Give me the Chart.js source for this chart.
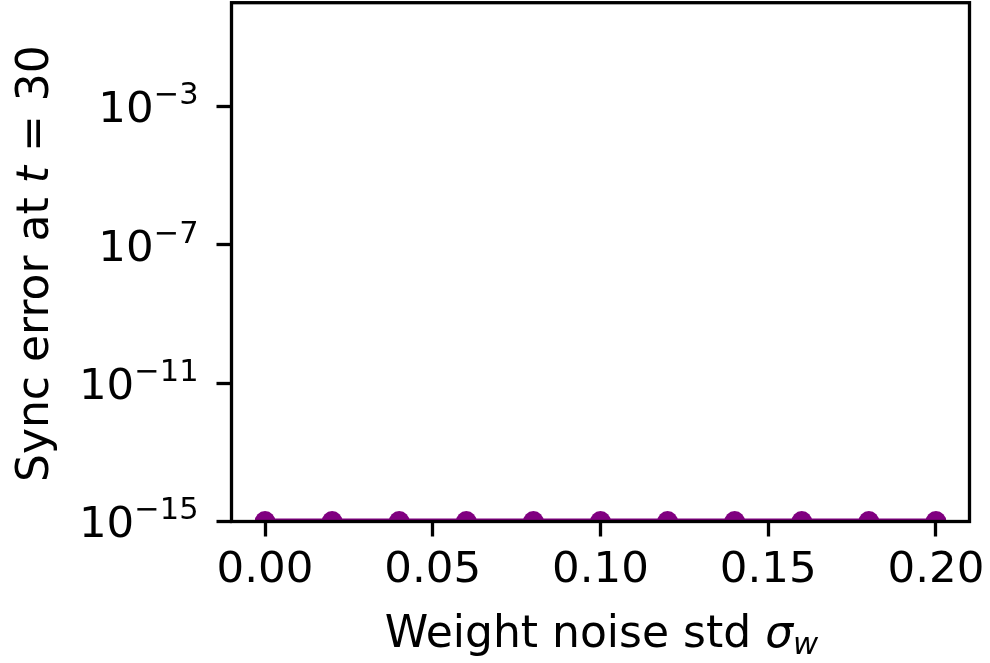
<!DOCTYPE html>
<html><head><meta charset="utf-8">
<style>html,body{margin:0;padding:0;background:#fff;overflow:hidden}#wrap{width:990px;height:663px;position:relative}</style>
<script src="https://cdn.jsdelivr.net/npm/chart.js@4/dist/chart.umd.min.js"></script>
</head><body><div id="wrap"><canvas id="c" width="990" height="663"></canvas></div>
<script>
// Data
const noiseStd = [0.00, 0.02, 0.04, 0.06, 0.08, 0.10, 0.12, 0.14, 0.16, 0.18, 0.20];
const syncError = [1e-15, 1e-15, 1e-15, 1e-15, 1e-15, 1e-15, 1e-15, 1e-15, 1e-15, 1e-15, 1e-15];
const xTickValues = [0.00, 0.05, 0.10, 0.15, 0.20];
const yTickValues = [1e-15, 1e-11, 1e-7, 1e-3];
const yTickBase = '10';
const yTickExponents = ['\u221215', '\u221211', '\u22127', '\u22123'];
const xTitleRuns = [{t: 'Weight noise std ', s: 'n'}, {t: '\u03C3', s: 'i'}, {t: 'w', s: 'sub'}];
const yTitleRuns = [{t: 'Sync error at ', s: 'n'}, {t: 't', s: 'i'}, {t: ' = 30', s: 'n'}];

const FS_TICK = 43.5;
const FS_TITLE = 44;
const FAM = "'DejaVu Sans', sans-serif";

function drawRuns(ctx, runs, cx, cy, fs) {
  const fontFor = r => (r.s === 'i' || r.s === 'sub' ? 'italic ' : '') + (r.s === 'sub' ? fs * 0.7 : fs) + 'px ' + FAM;
  let total = 0;
  const widths = runs.map(r => { ctx.font = fontFor(r); const w = ctx.measureText(r.t).width; total += w; return w; });
  let x = cx - total / 2;
  ctx.textAlign = 'left';
  ctx.textBaseline = 'alphabetic';
  runs.forEach((r, i) => {
    ctx.font = fontFor(r);
    ctx.fillText(r.t, x, cy + (r.s === 'sub' ? 7 : 0));
    x += widths[i];
  });
}

const framePlugin = {
  id: 'frame',
  afterDatasetsDraw(chart) {
    const {ctx, chartArea: a} = chart;
    ctx.save();
    ctx.strokeStyle = '#000';
    ctx.lineWidth = 3.3;
    ctx.lineJoin = 'miter';
    ctx.strokeRect(a.left, a.top, a.right - a.left, a.bottom - a.top);
    ctx.restore();
  },
  afterDraw(chart) {
    const {ctx, chartArea: a} = chart;
    const ys = chart.scales.y;
    ctx.save();
    ctx.fillStyle = '#000';
    // y tick labels: 10 with superscript exponent, placed via the log scale
    const rightX = a.left - 15 - 18;
    const supFs = FS_TICK * 0.7;
    yTickValues.forEach((v, i) => {
      const py = ys.getPixelForValue(v);
      const base = py + 0.3645 * FS_TICK;
      ctx.textBaseline = 'alphabetic';
      ctx.textAlign = 'right';
      ctx.font = supFs + 'px ' + FAM;
      const ew = ctx.measureText(yTickExponents[i]).width;
      ctx.fillText(yTickExponents[i], rightX, base - 18);
      ctx.font = FS_TICK + 'px ' + FAM;
      ctx.fillText(yTickBase, rightX - ew, base);
    });
    drawRuns(ctx, xTitleRuns, (a.left + a.right) / 2 + 1, 647, FS_TITLE);
    ctx.translate(48, (a.top + a.bottom) / 2 + 1.5);
    ctx.rotate(-Math.PI / 2);
    drawRuns(ctx, yTitleRuns, 0, 0, FS_TITLE);
    ctx.restore();
  }
};

new Chart(document.getElementById('c'), {
  type: 'line',
  data: {
    datasets: [{
      data: noiseStd.map((x, i) => ({x: x, y: syncError[i]})),
      borderColor: '#800080',
      backgroundColor: '#800080',
      borderWidth: 6,
      pointRadius: 10.4,
      pointBorderWidth: 0,
      pointBackgroundColor: '#800080',
      clip: 0,
      fill: false,
      tension: 0
    }]
  },
  options: {
    responsive: false,
    animation: false,
    devicePixelRatio: 1,
    layout: {autoPadding: false, padding: {left: 0, top: 2.7, right: 20.5, bottom: 0}},
    plugins: {legend: {display: false}, tooltip: {enabled: false}},
    scales: {
      x: {
        type: 'linear',
        min: -0.01,
        max: 0.21,
        afterBuildTicks: s => { s.ticks = xTickValues.map(v => ({value: v})); },
        afterFit: s => { s.height = 141.5; s.paddingLeft = 0; s.paddingRight = 0; },
        ticks: {
          callback: v => Number(v).toFixed(2),
          font: {family: FAM, size: FS_TICK},
          color: '#000',
          padding: 8,
          maxRotation: 0,
          autoSkip: false
        },
        grid: {display: true, drawOnChartArea: false, drawTicks: true, tickLength: 15, tickWidth: 3.3, tickColor: '#000'},
        border: {display: false}
      },
      y: {
        type: 'logarithmic',
        min: 1e-15,
        max: 1,
        afterBuildTicks: s => { s.ticks = yTickValues.map(v => ({value: v})); },
        afterFit: s => { s.width = 231.5; s.paddingTop = 0; s.paddingBottom = 0; },
        ticks: {display: false},
        grid: {display: true, drawOnChartArea: false, drawTicks: true, tickLength: 15, tickWidth: 3.3, tickColor: '#000'},
        border: {display: false}
      }
    }
  },
  plugins: [framePlugin]
});
</script>
</body></html>
